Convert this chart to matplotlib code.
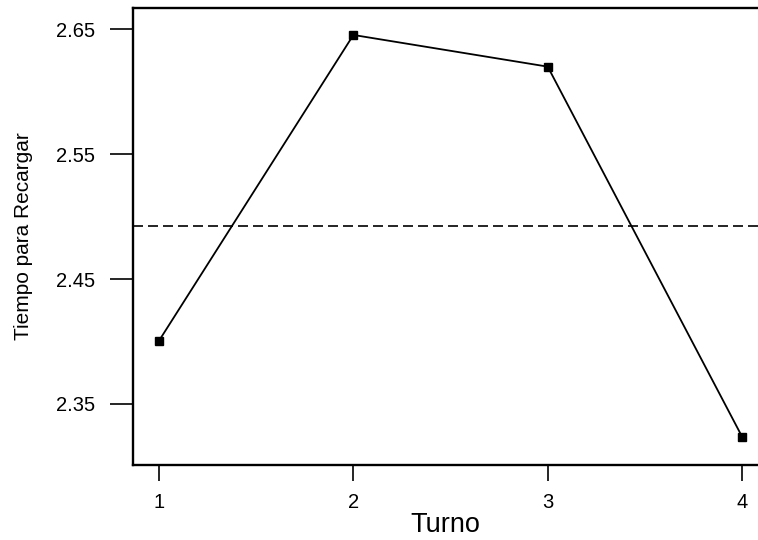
import matplotlib
matplotlib.use("Agg")
import matplotlib.pyplot as plt

turno = [1, 2, 3, 4]
tiempo = [2.4006, 2.6456, 2.6202, 2.3237]
media_general = 2.4928
yticks = [2.35, 2.45, 2.55, 2.65]
ytick_labels = ["2.35", "2.45", "2.55", "2.65"]

plt.rcParams['font.family'] = ['Liberation Sans', 'DejaVu Sans']

fig = plt.figure(figsize=(7.58, 5.40), dpi=100)
ax = fig.add_axes([133/758, 1 - 465/540, 1.0 - 133/758, (465 - 7.5)/540])

ax.plot(turno, tiempo, color='black', lw=1.3, marker='s', markersize=5.5,
        markerfacecolor='black', zorder=3)
ax.axhline(media_general, color='black', lw=1.2, ls=(0, (6, 3)))

ax.set_xlim(0.866, 4.082)
ax.set_ylim(2.301, 2.6676)
ax.set_xticks(turno)
ax.set_xticklabels([str(t) for t in turno])
ax.set_yticks(yticks)
ax.set_yticklabels(ytick_labels)

for s in ax.spines.values():
    s.set_linewidth(1.7)
ax.spines['right'].set_visible(False)

ax.tick_params(axis='y', direction='out', length=16.5, width=1.2, pad=11, labelsize=14.5)
ax.tick_params(axis='x', direction='out', length=11.5, width=1.2, pad=9, labelsize=14.5)

ax.set_xlabel("Turno", fontsize=19.5, labelpad=0)
ax.set_ylabel("Tiempo para Recargar", fontsize=15, labelpad=16)

fig.savefig("out.png", dpi=100)
